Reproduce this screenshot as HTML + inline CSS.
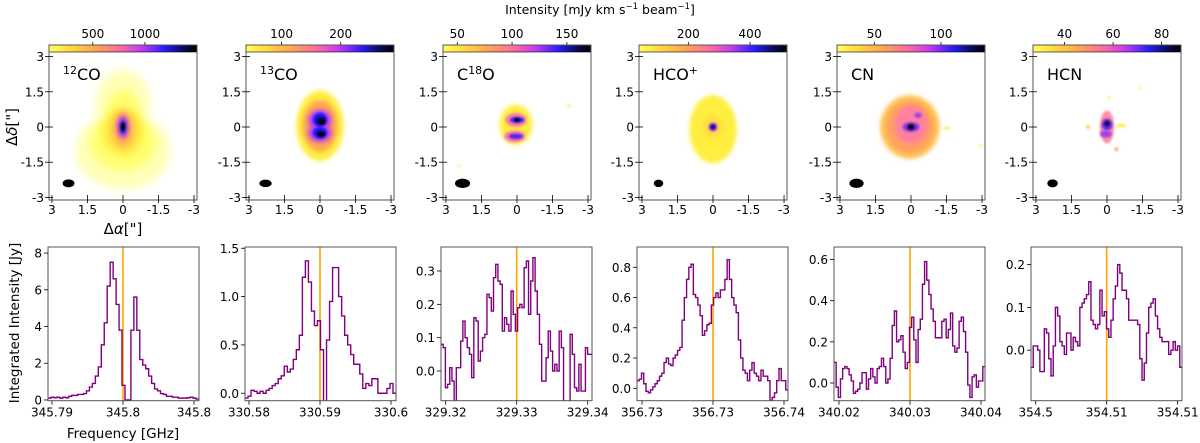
<!DOCTYPE html>
<html><head><meta charset="utf-8">
<style>
html,body{margin:0;padding:0;background:#fff;}
svg{display:block;font-family:"DejaVu Sans","Liberation Sans",sans-serif;}
</style></head>
<body>
<svg id="fig" width="1200" height="443" viewBox="0 0 1200 443" xmlns="http://www.w3.org/2000/svg">
<defs>
<linearGradient id="cmap" x1="0" x2="1" y1="0" y2="0">
<stop offset="0" stop-color="#ffff60"/><stop offset="0.12" stop-color="#ffe040"/>
<stop offset="0.3" stop-color="#ffa850"/><stop offset="0.48" stop-color="#ff6aa0"/>
<stop offset="0.62" stop-color="#c83cf0"/><stop offset="0.78" stop-color="#2a1cff"/>
<stop offset="0.9" stop-color="#0a0a60"/><stop offset="1" stop-color="#000000"/>
</linearGradient>
<filter id="b4" x="-50%" y="-50%" width="200%" height="200%"><feGaussianBlur stdDeviation="4"/></filter>
<filter id="b2" x="-50%" y="-50%" width="200%" height="200%"><feGaussianBlur stdDeviation="2"/></filter>
<filter id="b1" x="-50%" y="-50%" width="200%" height="200%"><feGaussianBlur stdDeviation="1"/></filter>
</defs>
<text x="600" y="14" text-anchor="middle" font-size="12.5">Intensity [mJy km s<tspan font-size="8.5" dy="-5">−1</tspan><tspan dy="5"> beam</tspan><tspan font-size="8.5" dy="-5">−1</tspan><tspan dy="5">]</tspan></text>
<text x="123" y="234" text-anchor="middle" font-size="15">Δ<tspan font-style="italic">α</tspan>["]</text>
<text transform="translate(17,127) rotate(-90)" text-anchor="middle" font-size="15">Δ<tspan font-style="italic">δ</tspan>["]</text>
<text transform="translate(19,323) rotate(-90)" text-anchor="middle" font-size="13.5">Integrated Intensity [Jy]</text>
<text x="123" y="438" text-anchor="middle" font-size="13.5">Frequency [GHz]</text>
</svg>
<script>
const NS='http://www.w3.org/2000/svg';
const fig=document.getElementById('fig');
function mk(tag,attrs,parent){const e=document.createElementNS(NS,tag);for(const k in attrs)e.setAttribute(k,attrs[k]);(parent||fig).appendChild(e);return e;}

// ---------- map panels data ----------
const molecules=['12CO','13CO','C18O','HCO+','CN','HCN'];
const cbTicks1=[500,1000], cbTicks2=[100,200], cbTicks3=[50,100,150], cbTicks4=[200,400], cbTicks5=[50,100], cbTicks6=[40,60,80];
const cbMin=[80,40,37,40,22,27];
const cbMax=[1500,290,172,520,133,88];
const mapTicks=[3,1.5,0,-1.5,-3];
const mapTickLabels=['3','1.5','0','-1.5','-3'];

// ---------- spectra data ----------
const spec1=[0.1,0.15,0.12,0.15,0.1,0.15,0.12,0.2,0.25,0.25,0.3,0.3,0.35,0.5,0.7,0.9,1.3,1.8,3.0,4.2,6.2,7.5,6.6,5.2,3.8,0.8,0,0,3.8,5.6,3.8,2.2,1.9,1.7,1.3,0.9,0.6,0.5,0.35,0.3,0.2,0.2,0.15,0.15,0.1,0.1,0.1,0.12,0.15,0.1,0.05];
const spec2=[-0.05,-0.03,0.03,0.02,0.0,0.02,0.0,0.03,0.05,0.08,0.1,0.15,0.18,0.28,0.22,0.25,0.35,0.45,0.6,1.2,1.37,1.15,0.85,0.7,0.75,0.45,-0.1,0.55,0.95,1.3,1.3,1.0,0.8,0.6,0.5,0.4,0.3,0.3,0.2,0.05,0.1,0.08,0.15,0.15,0.0,0.0,0.0,0.05,0.1,0.0];
const spec3=[0.08,0.07,-0.05,-0.04,0.01,-0.03,-0.1,0.01,0.01,0.09,0.15,0.1,0.07,0.05,-0.02,0.16,0.15,0.03,0.06,0.1,0.11,0.23,0.22,0.18,0.28,0.32,0.27,0.26,0.12,0.16,0.14,0.12,0.24,0.17,0.12,0.19,0.2,0.19,0.31,0.33,0.17,0.27,0.34,0.24,0.17,0.08,-0.03,-0.03,0.04,0.12,0.06,0.0,0.02,0.0,0.12,0.07,-0.09,-0.09,-0.09,0.11,0.05,-0.05,-0.06,0.02,-0.06,-0.06,0.07,0.05,0.05];
const spec4=[0.05,0.06,0.1,0.03,-0.02,-0.03,-0.01,0.01,0.03,0.05,0.08,0.1,0.17,0.2,0.16,0.15,0.2,0.22,0.25,0.27,0.45,0.6,0.72,0.8,0.82,0.62,0.6,0.55,0.48,0.35,0.38,0.42,0.43,0.55,0.6,0.63,0.6,0.65,0.65,0.72,0.85,0.72,0.6,0.55,0.5,0.32,0.2,0.12,0.1,0.05,0.12,0.17,0.1,0.08,0.05,0.12,0.08,0.08,0.05,-0.08,-0.06,-0.03,0.05,0.13,0.05,0.05,-0.01];
const spec5=[0.1,-0.02,-0.07,0.02,0.07,0.08,0.07,0.04,0.01,-0.05,-0.04,-0.03,0.0,0.05,0.05,-0.03,0.02,0.07,0.03,0.0,0.07,0.08,0.12,0.08,0.0,0.02,0.12,0.28,0.35,0.2,0.21,0.23,0.15,0.07,0.1,0.27,0.32,0.21,0.1,0.26,0.31,0.48,0.59,0.5,0.43,0.36,0.3,0.22,0.22,0.22,0.3,0.31,0.22,0.26,0.34,0.18,0.15,0.17,0.3,0.32,0.25,0.15,-0.01,-0.07,0.03,0.04,-0.02,0.01,0.01,0.08];
const spec6=[-0.04,0.01,0.01,0.0,-0.05,-0.05,0.05,0.04,-0.02,-0.06,0.01,0.1,0.08,0.02,0.01,-0.01,0.04,0.04,0.0,0.03,0.02,0.01,0.1,0.11,0.12,0.13,0.16,0.07,0.06,0.05,0.06,0.14,0.08,0.09,0.05,0.03,0.07,0.12,0.15,0.2,0.18,0.14,0.14,0.12,0.07,0.07,0.07,0.07,0.06,-0.02,-0.07,-0.03,0.04,0.1,0.11,0.12,0.08,0.05,0.03,0.02,0.02,0.02,-0.01,0.0,0.02,0.0,0.01,-0.04];
const yTicks1=[0,2,4,6,8], yTicks2=[0.0,0.5,1.0,1.5], yTicks3=[0.0,0.1,0.2,0.3], yTicks4=[0.0,0.2,0.4,0.6,0.8], yTicks5=[0.0,0.2,0.4,0.6], yTicks6=[0.0,0.1,0.2];
const yLabels1=['0','2','4','6','8'], yLabels2=['0.0','0.5','1.0','1.5'], yLabels3=['0.0','0.1','0.2','0.3'], yLabels4=['0.0','0.2','0.4','0.6','0.8'], yLabels5=['0.0','0.2','0.4','0.6'], yLabels6=['0.0','0.1','0.2'];
const xLabels1=['345.79','345.8','345.8'], xLabels2=['330.58','330.59','330.6'], xLabels3=['329.32','329.33','329.34'], xLabels4=['356.73','356.73','356.74'], xLabels5=['340.02','340.03','340.04'], xLabels6=['354.5','354.51','354.51'];
const xTickVals=[-1,0,1];
const lineRest=[0,0,0,0,0,0];
const yMin=[-0.04,-0.077,-0.089,-0.082,-0.086,-0.118];
const yMax=[8.33,1.513,0.372,0.934,0.661,0.241];

const specs=[spec1,spec2,spec3,spec4,spec5,spec6];
const yT=[yTicks1,yTicks2,yTicks3,yTicks4,yTicks5,yTicks6];
const yL=[yLabels1,yLabels2,yLabels3,yLabels4,yLabels5,yLabels6];
const xL=[xLabels1,xLabels2,xLabels3,xLabels4,xLabels5,xLabels6];
const cbT=[cbTicks1,cbTicks2,cbTicks3,cbTicks4,cbTicks5,cbTicks6];

const mapLeft=[49,246,443,639,837,1033], mapW=148, mapTop=45, mapBot=200;
const spLeft=[48,245,441,637,834,1031], spW=151, spTop=247, spBot=400.7;
const tickStep=71, tickOffset=[75,75,75.7,76,76,75.7];

const blobs=[
 [[0,-1.0,2.0,1.65,'#ffffb8','b4'],[0,1.0,1.15,1.45,'#ffffb8','b4'],[0,-0.7,1.4,1.15,'#ffff70','b4'],[0,0.6,0.7,1.0,'#ffff70','b4'],[0,-0.2,0.9,1.0,'#ffee40','b4'],[0,-0.1,0.5,0.8,'#ffb050','b4'],[0,0,0.28,0.55,'#ff70a0','b2'],[0,0,0.17,0.38,'#3020ff','b2'],[0,0,0.09,0.2,'#000','b1']],
 [[0,0.05,1.0,1.5,'#ffee40','b2'],[0,0.05,0.75,1.1,'#ffa850','b2'],[0,0.3,0.5,0.45,'#c040f0','b2'],[0,-0.25,0.5,0.4,'#c040f0','b2'],[0,0.3,0.3,0.3,'#1818ff','b1'],[0,-0.25,0.3,0.25,'#1818ff','b1'],[-0.05,0.25,0.18,0.15,'#000','b1'],[-0.05,-0.3,0.18,0.12,'#000','b1']],
 [[0.05,0.1,0.7,0.85,'#ffee40','b2'],[0.05,0.3,0.45,0.3,'#ff80a0','b1'],[0.1,-0.4,0.45,0.25,'#ff80a0','b1'],[0,0.3,0.3,0.13,'#3020ff','b1'],[0.05,-0.4,0.3,0.12,'#5020f0','b1'],[0,0.3,0.12,0.08,'#000','b1'],[-2.2,0.9,0.08,0.06,'#ffee40','b1'],[2.45,-1.65,0.06,0.05,'#ffee40','b1']],
 [[0,-0.1,1.0,1.45,'#ffee40','b2'],[0,0,0.45,0.5,'#ffe040','b2'],[0,0,0.2,0.2,'#ff6aa0','b1'],[0,0,0.14,0.14,'#2020ff','b1'],[0,0,0.07,0.07,'#000','b1']],
 [[0.05,0.0,1.25,1.35,'#ffc050','b2'],[0.05,0.0,1.0,1.1,'#ffa060','b2'],[0,0.1,0.7,0.8,'#ff80a0','b2'],[0,0,0.35,0.2,'#8030f0','b1'],[0,0.0,0.15,0.12,'#000','b1'],[-0.3,0.5,0.15,0.12,'#a040f0','b1'],[-1.5,-0.05,0.15,0.06,'#ffee40','b1'],[-2.95,-0.8,0.06,0.05,'#ffee40','b1']],
 [[0,0.0,0.3,0.7,'#ff90a0','b1'],[0,0.1,0.22,0.25,'#6020f0','b1'],[0.05,-0.3,0.25,0.15,'#a040f0','b1'],[0,0.15,0.1,0.1,'#000','b1'],[-0.6,0.05,0.2,0.08,'#ffee40','b1'],[0.8,0.0,0.08,0.08,'#ffc050','b1'],[-0.4,-0.95,0.08,0.08,'#ffa050','b1'],[-0.1,1.25,0.06,0.06,'#ffee40','b1'],[-1.4,1.65,0.05,0.05,'#ffee40','b1']]
];
const beams=[[2.3,-2.4,0.25,0.17],[2.3,-2.4,0.26,0.16],[2.3,-2.4,0.32,0.2],[2.3,-2.4,0.2,0.16],[2.3,-2.4,0.3,0.2],[2.3,-2.4,0.22,0.17]];
const subLabels=[['12','CO',''],['13','CO',''],['','C','18O'],['','HCO','+'],['','CN',''],['','HCN','']];

for(let p=0;p<6;p++){
  const L=mapLeft[p], cx=L+74, cy=127, sx=mapW/6.25, sy=(mapBot-mapTop)/6.6;
  const X=a=>cx-a*sx, Y=d=>cy-d*sy;
  const g=mk('g',{});
  
  
  const cid='clip'+p;
  const cp=mk('clipPath',{id:cid},g); mk('rect',{x:L,y:mapTop,width:mapW,height:mapBot-mapTop},cp);
  const im=mk('g',{'clip-path':'url(#'+cid+')'},g);
  
  
  for(const b of blobs[p]){
    const e=mk('ellipse',{cx:X(b[0]),cy:Y(b[1]),rx:b[2]*sx,ry:b[3]*sy,fill:b[4],filter:'url(#'+b[5]+')'},im);
    
    
  }
  const bm=beams[p];
  const be=mk('ellipse',{cx:X(bm[0]),cy:Y(bm[1]),rx:bm[2]*sx,ry:bm[3]*sy,fill:'#000'},g);
  
  
  const cb=mk('rect',{x:L,y:mapTop,width:mapW,height:7,fill:'url(#cmap)',stroke:'#000','stroke-width':0.6},g);
  
  
  for(const t of cbT[p]){
    const tx=L+(t-cbMin[p])/(cbMax[p]-cbMin[p])*mapW;
    mk('line',{x1:tx,x2:tx,y1:mapTop,y2:mapTop-3,stroke:'#000','stroke-width':0.8},g);
    const tl=mk('text',{x:tx,y:mapTop-7,'text-anchor':'middle','font-size':12},g);
    tl.textContent=t;
    
    
  }
  const fr=mk('rect',{x:L,y:mapTop,width:mapW,height:mapBot-mapTop,fill:'none',stroke:'#555','stroke-width':1},g);
  
  
  for(let i=0;i<mapTicks.length;i++){
    const ty=Y(mapTicks[i]), tx=X(mapTicks[i]);
    mk('line',{x1:L-4,x2:L+4,y1:ty,y2:ty,stroke:'#000','stroke-width':0.8},g);
    mk('line',{x1:tx,x2:tx,y1:mapBot+3,y2:mapBot-5,stroke:'#000','stroke-width':0.8},g);
    const yl=mk('text',{x:L-5,y:ty+4.5,'text-anchor':'end','font-size':12},g);
    yl.textContent=mapTickLabels[i];
    
    
    const xl=mk('text',{x:tx,y:mapBot+14,'text-anchor':'middle','font-size':12},g);
    xl.textContent=mapTickLabels[i];
    
    
  }
  const s=subLabels[p];
  const ml=mk('text',{x:L+14,y:80,'font-size':16},g);
  
  
  let h='';
  if(s[0]) h+='<tspan font-size="11" dy="-6">'+s[0]+'</tspan><tspan dy="6">'+s[1]+'</tspan>';
  else h+=s[1];
  if(s[2]==='18O') h='C<tspan font-size="11" dy="-6">18</tspan><tspan dy="6">O</tspan>';
  if(s[2]==='+') h='HCO<tspan font-size="11" dy="-6">+</tspan>';
  ml.innerHTML=h;
}

for(let p=0;p<6;p++){
  const L=spLeft[p], data=specs[p];
  const g=mk('g',{});
  
  
  const Y=v=>spBot-(v-yMin[p])/(yMax[p]-yMin[p])*(spBot-spTop);
  const cx=L+tickOffset[p];
  const XT=t=>cx+t*tickStep;
  const n=data.length, w=spW/n;
  const cid='sclip'+p;
  const cp=mk('clipPath',{id:cid},g); mk('rect',{x:L,y:spTop,width:spW,height:spBot-spTop},cp);
  let d='';
  for(let i=0;i<n;i++){const y=Y(data[i]);d+=(i===0?'M':'L')+(L+i*w).toFixed(2)+','+y.toFixed(2)+'L'+(L+(i+1)*w).toFixed(2)+','+y.toFixed(2);}
  const ln=mk('line',{x1:XT(lineRest[p]),x2:XT(lineRest[p]),y1:spTop,y2:spBot,stroke:'#ffa500','stroke-width':1.6},g);
  
  
  const pa=mk('path',{d:d,fill:'none',stroke:'#800080','stroke-width':1.4,'clip-path':'url(#'+cid+')'},g);
  
  
  const fr=mk('rect',{x:L,y:spTop,width:spW,height:spBot-spTop,fill:'none',stroke:'#555','stroke-width':1},g);
  
  
  for(let i=0;i<yT[p].length;i++){
    const ty=Y(yT[p][i]);
    mk('line',{x1:L-4,x2:L,y1:ty,y2:ty,stroke:'#000','stroke-width':0.8},g);
    const t=mk('text',{x:L-6,y:ty+4.5,'text-anchor':'end','font-size':12},g);
    t.textContent=yL[p][i];
    
    
  }
  for(let i=0;i<xTickVals.length;i++){
    const tx=XT(xTickVals[i]);
    mk('line',{x1:tx,x2:tx,y1:spBot,y2:spBot+4,stroke:'#000','stroke-width':0.8},g);
    const t=mk('text',{x:tx,y:spBot+16,'text-anchor':'middle','font-size':12},g);
    t.textContent=xL[p][i];
    
    
  }
}
</script>
</body></html>
